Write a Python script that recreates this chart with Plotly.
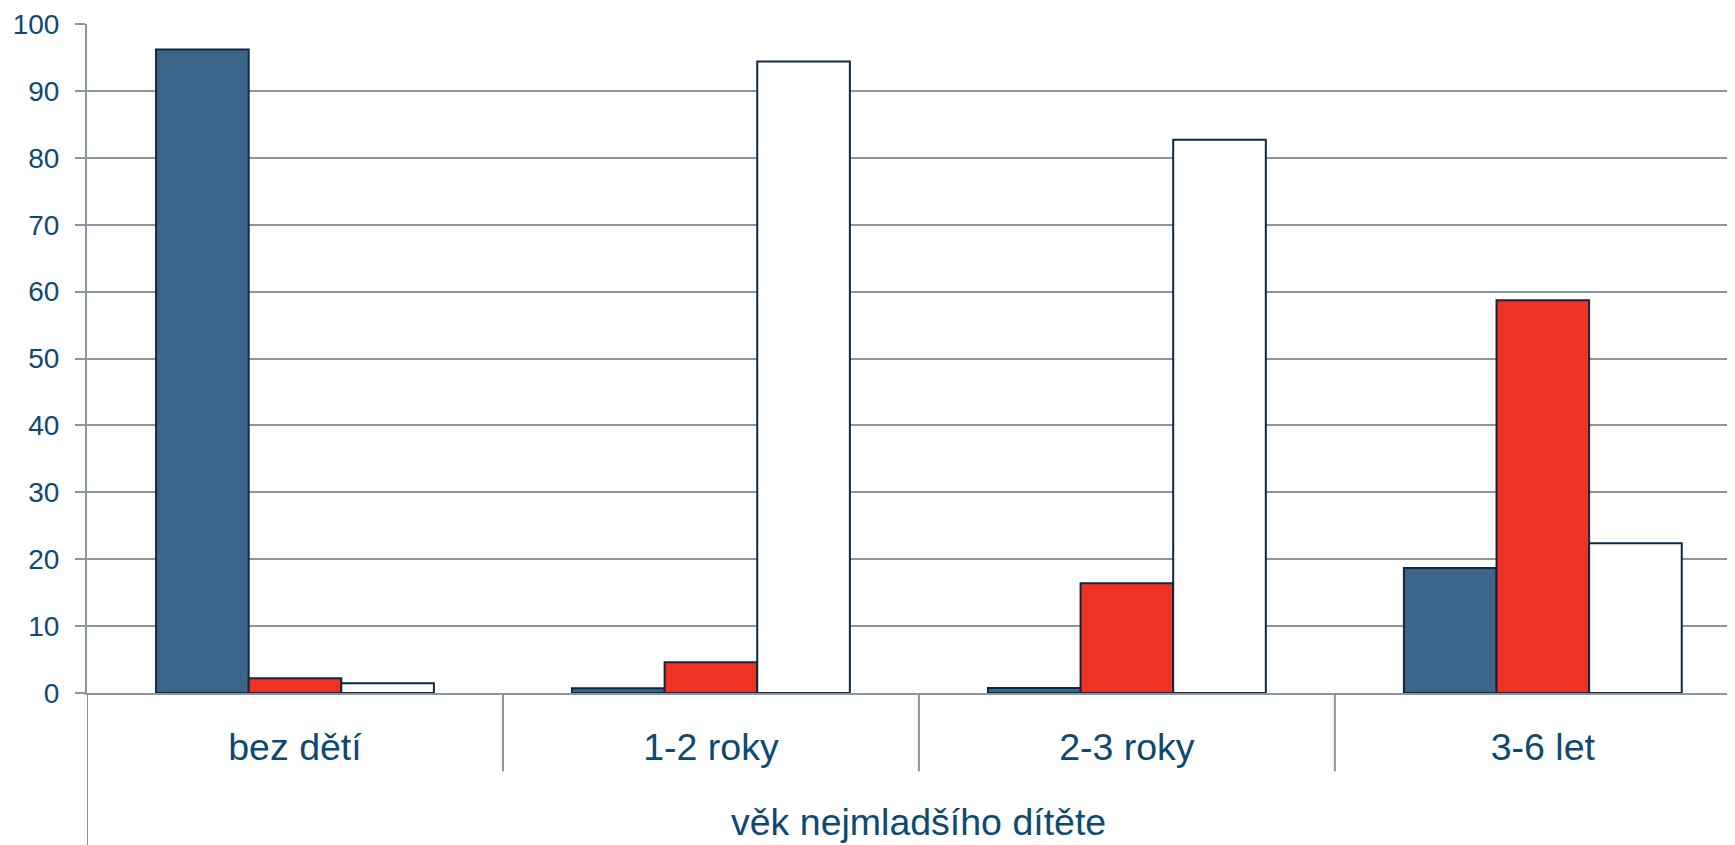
import plotly.graph_objects as go

categories = ["bez dětí", "1-2 roky", "2-3 roky", "3-6 let"]
series_blue = [96.2, 0.7, 0.75, 18.7]
series_red = [2.2, 4.6, 16.4, 58.7]
series_white = [1.45, 94.4, 82.7, 22.4]
y_ticks = [0, 10, 20, 30, 40, 50, 60, 70, 80, 90, 100]
x_title = "věk nejmladšího dítěte"

TEXT = "#0C4A72"
GRID = "#8A94A2"
EDGE = "#0E2A40"
FONT = "Liberation Sans, Arial, sans-serif"

fig = go.Figure()
for vals, col in [(series_blue, "#3D6589"), (series_red, "#EE3224"), (series_white, "#FFFFFF")]:
    fig.add_trace(go.Bar(
        x=categories, y=vals,
        marker=dict(color=col, line=dict(color=EDGE, width=2)),
        showlegend=False,
    ))

OFF = 8  # page body margin of the html page
PW, PH = 1735, 845
W, H = PW - OFF, PH - OFF
L, T = 87 - OFF, 24 - OFF
BOTTOM_PAGE = 692.7
B = H - (BOTTOM_PAGE - OFF)
plot_h = H - T - B

def py(p_page):
    p = p_page - OFF
    return (H - B - p) / plot_h

fig.update_layout(
    width=W, height=H,
    margin=dict(l=L, r=0, t=T, b=B, pad=0),
    paper_bgcolor="white", plot_bgcolor="white",
    barmode="group", bargap=0.332, bargroupgap=0,
    font=dict(family=FONT, color=TEXT),
    xaxis=dict(
        type="category", range=[-0.5, 3.462],
        showgrid=False, zeroline=False,
        showline=True, linecolor=GRID, linewidth=2,
        ticks="", tickfont=dict(size=37.5, color=TEXT),
        ticklabelstandoff=20,
    ),
    yaxis=dict(
        range=[0, 100], tickvals=y_ticks,
        showgrid=True, gridcolor=GRID, gridwidth=2,
        zeroline=False,
        showline=True, linecolor=GRID, linewidth=2,
        ticks="outside", ticklen=10, tickcolor=GRID, tickwidth=2,
        tickfont=dict(size=28, color=TEXT),
        ticklabelstandoff=10,
    ),
)

# category separators of the multi-level axis
for xv in [0.5, 1.5, 2.5]:
    fig.add_shape(type="line", xref="x", yref="paper",
                  x0=xv, x1=xv, y0=0, y1=py(771),
                  line=dict(color=GRID, width=2))
# left axis extension down to the bottom
fig.add_shape(type="line", xref="x", yref="paper",
              x0=-0.5, x1=-0.5, y0=0, y1=py(PH + 5),
              line=dict(color=GRID, width=2))

fig.add_annotation(text=x_title, xref="x", yref="paper",
                   x=1.5, y=py(822), yanchor="middle", xanchor="center",
                   showarrow=False, font=dict(size=37.5, color=TEXT, family=FONT))

fig.write_html("out.html")
